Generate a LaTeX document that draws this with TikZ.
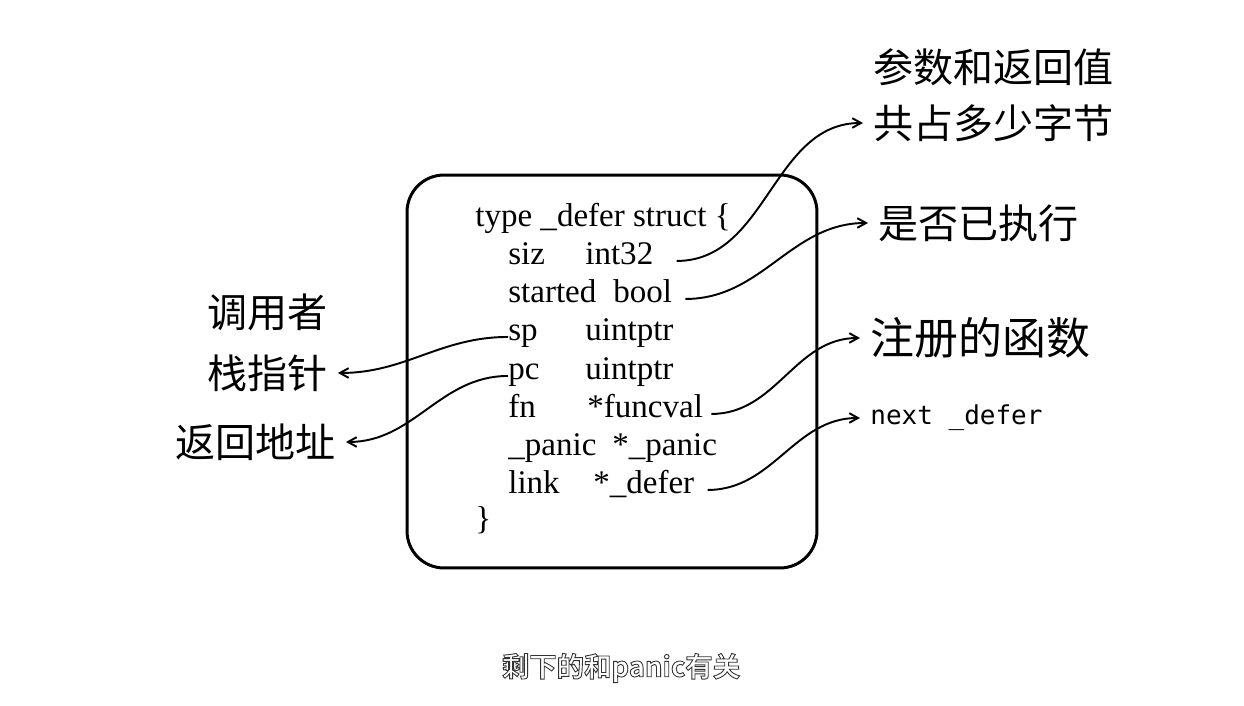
\documentclass[tikz,border=0pt]{standalone}
\usepackage{fontspec}
\setmainfont{Liberation Serif}
\newfontfamily\cjk{Noto Sans CJK SC}
\newfontfamily\cjkbf{Noto Sans CJK SC Bold}
\newfontfamily\codemono{DejaVu Sans Mono}
\newcommand\outlined[1]{\special{pdf:literal direct 2 Tr 0.5 w 0.2 G}#1\special{pdf:literal direct 0 Tr}}
\usetikzlibrary{arrows.meta}

\begin{document}
\begin{tikzpicture}[x=0.02cm, y=0.02cm,
  code/.style={anchor=base west, inner sep=0pt, font=\fontsize{18.8}{22}\selectfont},
  lbl/.style={anchor=west, inner xsep=0.2cm, inner ysep=2pt, font=\cjk\fontsize{22.8}{26}\selectfont},
  conn/.style={line width=1.1pt, -{Straight Barb[length=5pt,width=5.5pt]}},
  subtxt/.style={font=\cjkbf\fontsize{15.6}{18}\selectfont, inner sep=0pt}]
\path[fill=white, use as bounding box] (0,0) rectangle (1244,706);
\node[draw, line width=1.7pt, rounded corners=21pt, minimum width=8.2cm, minimum height=7.86cm] (frame) at (612,334.5) {};
\node[code] (head) at (475,479) {type \_defer struct \{};
\node[code] (fsiz) at (508,441) {siz};
\node[code] (tsiz) at (585,441) {int32};
\node[code] (fstarted) at (508,403) {started};
\node[code] (tstarted) at (613,403) {bool};
\node[code] (fsp) at (508,365) {sp};
\node[code] (tsp) at (585,365) {uintptr};
\node[code] (fpc) at (508,326) {pc};
\node[code] (tpc) at (585,326) {uintptr};
\node[code] (ffn) at (508,288) {fn};
\node[code] (tfn) at (587,288) {*funcval};
\node[code] (fpanic) at (508,250) {\_panic};
\node[code] (tpanic) at (612,250) {*\_panic};
\node[code] (flink) at (508,212) {link};
\node[code] (tlink) at (593,212) {*\_defer};
\node[code] (tail) at (475,176) {\}};
\node[lbl] (size1) at (863,639) {参数和返回值};
\node[lbl] (size2) at (863,583) {共占多少字节};
\node[lbl] (done) at (868,483) {是否已执行};
\node[lbl, font=\cjk\fontsize{25}{28}\selectfont] (func) at (860,368) {注册的函数};
\node[lbl, font=\codemono\fontsize{14.8}{17}\selectfont] (nxt) at (860,288) {next \_defer};
\node[lbl] (caller1) at (197,394) {调用者};
\node[lbl] (caller2) at (197,333) {栈指针};
\node[lbl] (retaddr) at (165,264) {返回地址};
\draw[conn] ([xshift=0.46cm]tsiz.mid east) to[out=0,in=180] (size2.west);
\draw[conn] ([xshift=0.26cm]tstarted.mid east) to[out=0,in=180] (done.west);
\draw[conn] ([xshift=0.16cm]tfn.mid east) to[out=0,in=180] (func.west);
\draw[conn] ([xshift=0.26cm]tlink.mid east) to[out=0,in=180] (nxt.west);
\draw[conn] (fsp.mid west) to[out=180,in=0] (caller2.east);
\draw[conn] (fpc.mid west) to[out=180,in=0] (retaddr.east);
\node[subtxt, text=white] (sub) at (621,38) {\outlined{剩下的和panic有关}};
\end{tikzpicture}
\end{document}
